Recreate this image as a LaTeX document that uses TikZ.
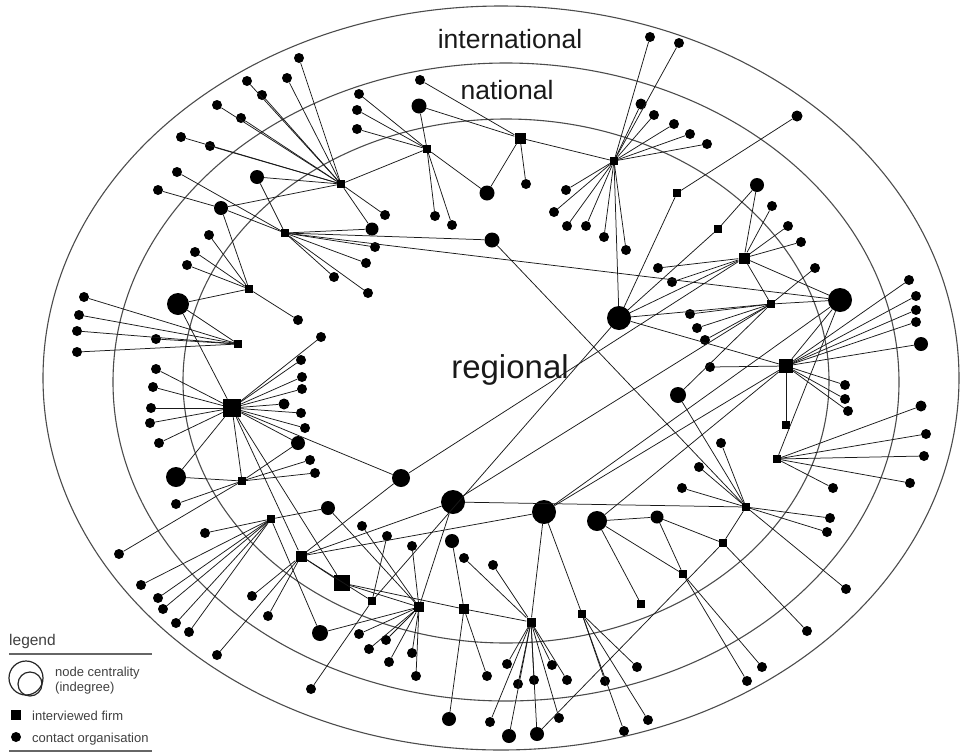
\documentclass[tikz,border=0pt]{standalone}
\usepackage{fontspec}
\setmainfont{Liberation Sans}
\tikzset{
  firm/.style={rectangle,fill=black,inner sep=0pt,minimum size=#1},
  firm/.default=8pt,
  org/.style={circle,fill=black,inner sep=0pt,minimum size=#1},
  org/.default=10pt,
  link/.style={black!90,line width=0.75pt},
  zone/.style={draw=black!70,line width=1.1pt},
  zonelbl/.style={anchor=base,inner sep=0pt,text=black!90},
  legtxt/.style={anchor=base west,inner sep=0pt,text=black!75,font=\fontsize{13}{15}\selectfont}
}

\begin{document}
\begin{tikzpicture}[x=1pt,y=-1pt]
\useasboundingbox (0,0) rectangle (964,753);

%%%%% zones
\draw[zone] (501,378) ellipse [x radius=458pt, y radius=372pt];
\draw[zone] (506,382) ellipse [x radius=393pt, y radius=319pt];
\draw[zone] (506,381) ellipse [x radius=323pt, y radius=262pt];
\node[zonelbl,font=\fontsize{26.5}{30}\selectfont] (intl) at (510,48) {international};
\node[zonelbl,font=\fontsize{26.5}{30}\selectfont] (natl) at (507,99) {national};
\node[zonelbl,font=\fontsize{33}{36}\selectfont] (regl) at (510,378) {regional};

%%%%% interviewed firms
\foreach \n/\x/\y/\s in {f1/341/184/8, f2/427/149/8, f3/520/138/11, f4/614/161/8,
  f5/285/233/8, f6/677/193/8, f7/718/229/8, f8/744/258/11, f9/249/289/8,
  f10/238/344/8, f11/232/408/18, f12/771/304/8, f13/786/366/14, f14/786/425/8,
  f15/777/459/8, f16/242/481/8, f17/271/519/8, f18/301/556/11, f19/342/583/16,
  f20/372/601/8, f21/419/607/10, f22/464/609/10, f23/531/622/9, f24/582/614/8,
  f25/641/604/8, f26/683/574/8, f27/723/543/8, f28/746/507/8}
  \node[firm=\s pt] (\n) at (\x,\y) {};

%%%%% contact organisations
\foreach \n/\x/\y/\s in {c1/299/58/10, c2/287/78/10, c3/247/81/10, c4/262/95/10,
  c5/217/105/10, c6/241/118/10, c7/181/137/10, c8/210/146/10, c9/177/172/10,
  c10/158/190/10, c11/221/208/14, c12/209/235/10, c13/195/252/10, c14/187/265/10,
  c15/257/177/14, c16/385/215/10, c17/372/229/13, c18/375/247/10, c19/366/263/10,
  c20/334/277/10, c21/368/293/10, c22/298/320/10, c23/321/337/10,
  c24/359/94/10, c25/357/110/10, c26/357/129/10, c27/420/80/10, c28/419/106/15,
  c29/435/216/10, c30/452/225/10, c31/487/193/15, c32/526/184/10, c33/492/240/15,
  c34/650/37/10, c35/679/43/10, c36/641/104/11, c37/654/115/10, c38/674/124/10,
  c39/690/134/10, c40/707/144/10, c41/566/190/10, c42/554/212/10, c43/567/226/10,
  c44/586/226/10, c45/604/237/10, c46/626/250/10, c47/797/116/11, c48/757/185/14,
  c49/772/206/10, c50/788/226/10, c51/801/242/10, c52/658/268/10, c53/672/282/10,
  c54/619/318/24, c55/690/314/10, c56/697/328/10, c57/705/340/10, c58/710/367/10,
  c59/678/395/16, c60/815/268/10, c61/840/300/24, c62/909/280/10, c63/916/296/10,
  c64/916/310/10, c65/916/322/10, c66/921/344/14, c67/845/385/10, c68/845/399/10,
  c69/848/411/10, c70/921/406/11, c71/926/434/10, c72/924/456/10, c73/910/483/10,
  c74/833/488/10, c75/721/443/10, c76/699/467/10, c77/682/488/10, c78/830/518/10,
  c79/827/532/10, c80/846/589/10, c81/807/631/10, c82/762/667/10, c83/747/681/10,
  c84/178/304/22, c85/84/297/10, c86/79/315/10, c87/77/331/10, c88/77/352/10,
  c89/156/339/10, c90/156/369/10, c91/153/387/10, c92/151/408/10, c93/150/423/10,
  c94/159/443/10, c95/176/477/20, c96/176/504/10, c97/301/360/10, c98/302/377/10,
  c99/302/389/10, c100/284/404/11, c101/301/413/10, c102/305/428/10, c103/298/443/14,
  c104/310/460/10, c105/315/473/10, c106/401/478/18, c107/119/554/10, c108/205/533/10,
  c109/141/585/10, c110/158/598/10, c111/163/609/10, c112/176/623/10, c113/189/632/10,
  c114/217/655/10, c115/252/596/10, c116/268/616/10, c117/328/508/14, c118/453/502/24,
  c119/362/526/10, c120/387/536/10, c121/412/546/10, c122/452/541/14, c123/464/558/10,
  c124/320/633/16, c125/359/634/10, c126/386/640/10, c127/369/649/10, c128/389/662/10,
  c129/412/653/10, c130/416/676/10, c131/311/689/10, c132/449/719/14, c133/544/512/24,
  c134/597/521/20, c135/657/517/13, c136/493/565/10, c137/487/676/10, c138/507/664/10,
  c139/518/684/10, c140/534/680/10, c141/552/665/10, c142/567/680/10, c143/490/722/10,
  c144/509/736/14, c145/537/734/14, c146/559/718/10, c147/605/681/10, c148/637/667/10,
  c149/624/731/10, c150/648/720/10}
  \node[org=\s pt] (\n) at (\x,\y) {};

%%%%% ties
\foreach \f/\cs in {
  f1/{c1,c2,c3,c4,c5,c6,c7,c8,c11,c15,c16,c17,f2},
  f2/{c24,c25,c26,c28,c29,c30,c31},
  f3/{c27,c28,c31,c32,f4},
  f4/{c34,c35,c36,c37,c38,c39,c40,c41,c42,c43,c44,c45,c46,c54},
  f5/{c9,c11,c15,c17,c18,c19,c20,c21,c33,c61},
  f6/{c47,c54},
  f7/{c48,c54},
  f8/{c48,c49,c50,c51,c52,c53,c54,c106,f12,c61},
  f9/{c11,c12,c13,c14,c84,c22},
  f10/{c84,c85,c86,c87,c88,c89},
  f11/{c84,c90,c91,c92,c93,c94,c95,c23,c97,c98,c99,c100,c101,c102,c103,c106,f16,f18},
  f12/{c60,c61,c54,c55,c56,c57,c59,c118},
  f13/{c62,c63,c64,c65,c66,c67,c68,c69,f14,c58,c61,c54,c133,c134},
  f15/{c70,c71,c72,c73,c74,c61},
  f16/{c95,c96,c107,c103,c104,c105},
  f17/{c108,c109,c110,c111,c112,c113,c117,c124},
  f18/{c114,c115,c116,c106,c118,c133,f19},
  f19/{f11,f21,f22},
  f20/{c120,c131,f18,c54},
  f21/{c124,c125,c126,c127,c128,c129,c130,c121,c119,c117,c118},
  f22/{c132,c137,c122,f23},
  f23/{c123,c136,c138,c139,c140,c141,c142,c143,c144,c145,c146,c133},
  f24/{c147,c148,c149,c150,c133},
  f25/{c134},
  f26/{c134,c135,c82,c83},
  f27/{c135,c81,f28,c145},
  f28/{c78,c79,c80,c75,c76,c77,c33,c59,c118}}
  {\foreach \c in \cs \draw[link] (\f) -- (\c);}
\draw[link] (c10) -- (c11);
\draw[link] (c133) -- (c61);
\draw[link] (c134) -- (c135);

%%%%% legend
\node[anchor=base west,inner sep=0pt,text=black!75,font=\fontsize{15.5}{18}\selectfont] (legttl) at (9,645) {legend};
\draw[black!60,line width=1.2pt] (9,654) -- (152,654);
\draw[black!85,line width=1.2pt] (26,678) circle [radius=17pt];
\draw[black!85,line width=1.2pt] (30,684) circle [radius=12pt];
\node[legtxt] (legcen) at (55,676) {node centrality};
\node[legtxt] (legind) at (55,691) {(indegree)};
\node[firm=10.5pt] (legfirm) at (16,715) {};
\node[legtxt] (legfirmt) at (32,720) {interviewed firm};
\node[org=10pt] (legorg) at (16,737) {};
\node[legtxt] (legorgt) at (32,742) {contact organisation};
\draw[black!60,line width=1.2pt] (9,751) -- (152,751);
\end{tikzpicture}
\end{document}
